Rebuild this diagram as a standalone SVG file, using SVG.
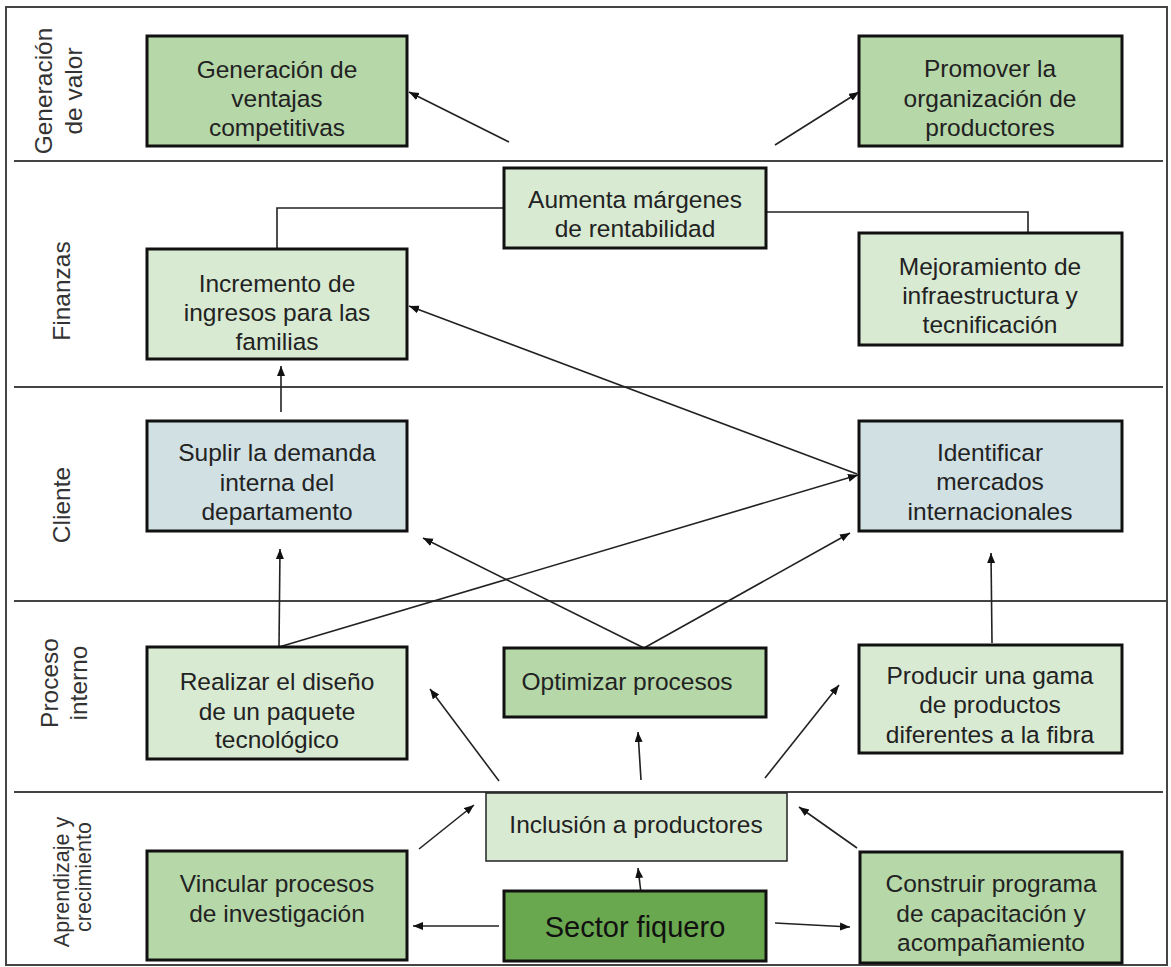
<svg xmlns="http://www.w3.org/2000/svg" width="1171" height="967" viewBox="0 0 1171 967">
<style>
.frame{fill:none;stroke:#444;stroke-width:2}
.div{stroke:#444;stroke-width:2}
.box{stroke:#111;stroke-width:3}
.thin{stroke:#222;stroke-width:1.5}
.g1{fill:#b6d7a8}
.g2{fill:#d9ead3}
.b1{fill:#d0e0e3}
.g3{fill:#6aa84f}
text{font-family:"Liberation Sans",Arial,sans-serif;fill:#222;font-size:24.5px;text-anchor:middle}
.lane{font-size:24.5px;fill:#333}
.lane2{font-size:21.5px;fill:#333}
.big{font-size:29px;fill:#111}
.conn{stroke:#222;stroke-width:1.6;fill:none}
.arr{marker-end:url(#ah)}
</style>
<defs>
<marker id="ah" markerUnits="userSpaceOnUse" markerWidth="11" markerHeight="9" refX="10" refY="4" orient="auto">
<path d="M0,0 L10,4 L0,8 z" fill="#111"/>
</marker>
</defs>
<rect x="0" y="0" width="1171" height="967" fill="#fff"/>
<g id="lanes">
<rect class="frame" x="6" y="7" width="1161" height="958"/>
<line class="div" x1="14" y1="161" x2="1163" y2="161"/>
<line class="div" x1="14" y1="387" x2="1163" y2="387"/>
<line class="div" x1="14" y1="601" x2="1167" y2="601"/>
<line class="div" x1="14" y1="792" x2="1163" y2="792"/>
<text class="lane" transform="translate(52,91) rotate(-90)">Generación</text>
<text class="lane" transform="translate(82,91) rotate(-90)">de valor</text>
<text class="lane" transform="translate(70,291) rotate(-90)">Finanzas</text>
<text class="lane" transform="translate(70,505) rotate(-90)">Cliente</text>
<text class="lane" transform="translate(58,683) rotate(-90)">Proceso</text>
<text class="lane" transform="translate(87,683) rotate(-90)">interno</text>
<text class="lane2" transform="translate(69,882) rotate(-90)">Aprendizaje y</text>
<text class="lane2" transform="translate(91,877) rotate(-90)">crecimiento</text>
</g>
<g id="connectors">
<line class="conn arr" x1="509" y1="142" x2="409" y2="92"/>
<line class="conn arr" x1="775" y1="145" x2="859" y2="92"/>
<polyline class="conn" points="504,208 277,208 277,249"/>
<polyline class="conn" points="766,212 1028,212 1028,233"/>
<line class="conn arr" x1="857" y1="474" x2="409" y2="306"/>
<line class="conn arr" x1="281" y1="412" x2="281" y2="366"/>
<line class="conn arr" x1="279" y1="647" x2="280" y2="549"/>
<line class="conn arr" x1="279" y1="647" x2="858" y2="475"/>
<line class="conn arr" x1="644" y1="648" x2="423" y2="538"/>
<line class="conn arr" x1="644" y1="648" x2="850" y2="533"/>
<line class="conn arr" x1="992" y1="643" x2="991" y2="553"/>
<line class="conn arr" x1="499" y1="781" x2="430" y2="689"/>
<line class="conn arr" x1="641" y1="780" x2="638" y2="732"/>
<line class="conn arr" x1="765" y1="778" x2="839" y2="685"/>
<line class="conn arr" x1="419" y1="849" x2="474" y2="805"/>
<line class="conn arr" x1="857" y1="848" x2="799" y2="807"/>
<line class="conn arr" x1="641" y1="893" x2="638" y2="868"/>
<line class="conn arr" x1="499" y1="926" x2="413" y2="926"/>
<line class="conn arr" x1="775" y1="923" x2="850" y2="927"/>
</g>
<g id="n-generacion">
<rect class="box g1" x="147" y="36" width="260" height="110"/>
<text x="277" y="78">Generación de</text>
<text x="277" y="107">ventajas</text>
<text x="277" y="136">competitivas</text>
</g>
<g id="n-promover">
<rect class="box g1" x="859" y="36" width="263" height="110"/>
<text x="990" y="77">Promover la</text>
<text x="990" y="107">organización de</text>
<text x="990" y="136">productores</text>
</g>
<g id="n-aumenta">
<rect class="box g2" x="504" y="168" width="262" height="80"/>
<text x="635" y="208">Aumenta márgenes</text>
<text x="635" y="237">de rentabilidad</text>
</g>
<g id="n-incremento">
<rect class="box g2" x="147" y="249" width="260" height="110"/>
<text x="277" y="292">Incremento de</text>
<text x="277" y="321">ingresos para las</text>
<text x="277" y="350">familias</text>
</g>
<g id="n-mejoramiento">
<rect class="box g2" x="859" y="233" width="263" height="112"/>
<text x="990" y="275">Mejoramiento de</text>
<text x="990" y="304">infraestructura y</text>
<text x="990" y="333">tecnificación</text>
</g>
<g id="n-suplir">
<rect class="box b1" x="147" y="421" width="260" height="110"/>
<text x="277" y="461">Suplir la demanda</text>
<text x="277" y="491">interna del</text>
<text x="277" y="520">departamento</text>
</g>
<g id="n-identificar">
<rect class="box b1" x="859" y="421" width="263" height="110"/>
<text x="990" y="461">Identificar</text>
<text x="990" y="490">mercados</text>
<text x="990" y="520">internacionales</text>
</g>
<g id="n-realizar">
<rect class="box g2" x="147" y="647" width="260" height="112"/>
<text x="277" y="690">Realizar el diseño</text>
<text x="277" y="720">de un paquete</text>
<text x="277" y="748">tecnológico</text>
</g>
<g id="n-optimizar">
<rect class="box g1" x="504" y="648" width="262" height="69"/>
<text x="627" y="690">Optimizar procesos</text>
</g>
<g id="n-producir">
<rect class="box g2" x="859" y="645" width="263" height="108"/>
<text x="990" y="684">Producir una gama</text>
<text x="990" y="713">de productos</text>
<text x="990" y="743">diferentes a la fibra</text>
</g>
<g id="n-inclusion">
<rect class="thin g2" x="486" y="793" width="301" height="68"/>
<text x="636" y="833">Inclusión a productores</text>
</g>
<g id="n-vincular">
<rect class="box g1" x="147" y="851" width="260" height="109"/>
<text x="277" y="892">Vincular procesos</text>
<text x="277" y="922">de investigación</text>
</g>
<g id="n-sector">
<rect class="box g3" x="504" y="891" width="262" height="70"/>
<text class="big" x="635" y="937">Sector fiquero</text>
</g>
<g id="n-construir">
<rect class="box g1" x="860" y="852" width="262" height="111"/>
<text x="991" y="892">Construir programa</text>
<text x="991" y="922">de capacitación y</text>
<text x="991" y="951">acompañamiento</text>
</g>
</svg>
